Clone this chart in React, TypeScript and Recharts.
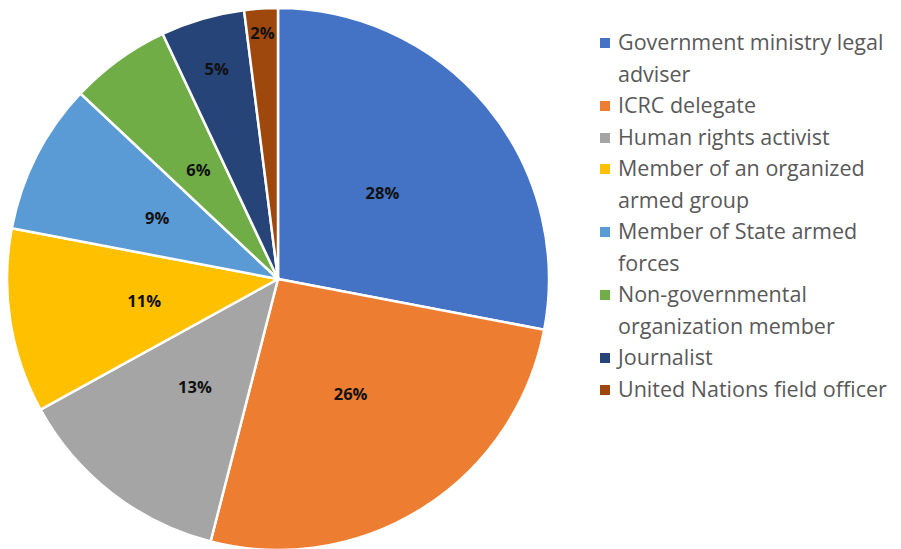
import { PieChart, Pie, Cell, Legend } from 'recharts';

const categories = [
  'Government ministry legal adviser',
  'ICRC delegate',
  'Human rights activist',
  'Member of an organized armed group',
  'Member of State armed forces',
  'Non-governmental organization member',
  'Journalist',
  'United Nations field officer',
];
const shares = [28, 26, 13, 11, 9, 6, 5, 2];
const colors = ['#4472C4', '#ED7D31', '#A5A5A5', '#FFC000', '#5B9BD5', '#70AD47', '#264478', '#9E480E'];
// how the legend wraps each name in the original
const legendLines = [
  ['Government ministry legal', 'adviser'],
  ['ICRC delegate'],
  ['Human rights activist'],
  ['Member of an organized', 'armed group'],
  ['Member of State armed', 'forces'],
  ['Non-governmental', 'organization member'],
  ['Journalist'],
  ['United Nations field officer'],
];

const data = categories.map((name, i) => ({ name, value: shares[i] }));

const RADIAN = Math.PI / 180;

const renderLabel = (props: any) => {
  const { cx, cy, midAngle, outerRadius, value } = props;
  // thin slices get their label pushed out toward the rim, as in the original
  const k = value <= 2 ? 0.91 : value <= 5 ? 0.81 : 0.5;
  const r = outerRadius * k;
  const x = cx + r * Math.cos(-midAngle * RADIAN);
  const y = cy + r * Math.sin(-midAngle * RADIAN);
  return (
    <text x={x} y={y} textAnchor="middle" dominantBaseline="central" fill="#111" fontSize={16.5} fontWeight={700} fontFamily="'Open Sans', sans-serif">
      {value}%
    </text>
  );
};

const LegendList = () => (
  <div style={{ fontFamily: "'Open Sans', sans-serif", fontSize: 21.5, color: '#595959', lineHeight: '31.5px' }}>
    {legendLines.map((lines, i) => (
      <div key={i} style={{ display: 'flex', alignItems: 'flex-start' }}>
        <div style={{ width: 10, height: 10, background: colors[i], marginTop: 12, marginRight: 8, flexShrink: 0 }} />
        <div>
          {lines.map((l, j) => (
            <div key={j} style={{ whiteSpace: 'nowrap' }}>{l}</div>
          ))}
        </div>
      </div>
    ))}
  </div>
);

export default function App() {
  return (
    <PieChart width={893} height={541} margin={{ top: 0, right: 0, bottom: 0, left: 0 }}>
      <Pie
        data={data}
        dataKey="value"
        nameKey="name"
        cx={270}
        cy={271}
        outerRadius={271}
        startAngle={90}
        endAngle={-270}
        stroke="#fff"
        strokeWidth={2.5}
        label={renderLabel}
        labelLine={false}
        isAnimationActive={false}
      >
        {data.map((d, i) => (
          <Cell key={d.name} fill={colors[i]} />
        ))}
      </Pie>
      <Legend
        layout="vertical"
        align="right"
        verticalAlign="top"
        content={<LegendList />}
        wrapperStyle={{ left: 592, top: 18, width: 310 }}
      />
    </PieChart>
  );
}
